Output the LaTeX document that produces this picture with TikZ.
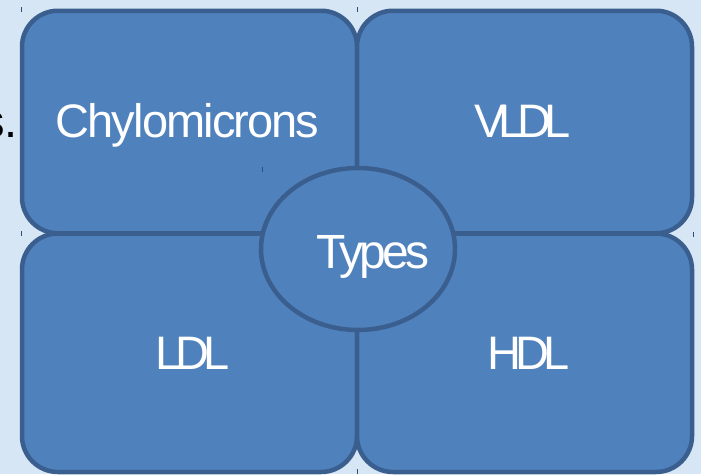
\documentclass[tikz,border=0pt]{standalone}
\usepackage{fontspec}
\setmainfont{Liberation Sans}
\usetikzlibrary{shapes.geometric}
\definecolor{slidebg}{HTML}{D6E6F5}
\definecolor{tilefill}{HTML}{4F81BD}
\definecolor{tileedge}{HTML}{3A5F8E}
\definecolor{tickblue}{HTML}{2E4E7E}
\newfontfamily\tilefont{Liberation Sans}
\begin{document}
\begin{tikzpicture}[x=1pt,y=-1pt,
  tile/.style={draw=tileedge, fill=tilefill, line width=4.5pt,
    rounded corners=36pt, inner sep=0pt},
  hub/.style={ellipse, draw=tileedge, fill=tilefill, line width=4.5pt, inner sep=0pt},
  tiletext/.style={text=white, inner sep=0pt, anchor=base},
  tick/.style={draw=tickblue, line width=1pt}]
  % page area
  \fill[slidebg] (0,0) rectangle (701,474);
  \useasboundingbox (0,0) rectangle (701,474);
  \clip (0,0) rectangle (701,474);

  % tail of the title text running behind the diagram
  \node[anchor=base east, inner sep=0pt, text=black,
    font=\tilefont\fontsize{47}{50}\selectfont] (tail) at (18,137) {s.};

  % four quadrant tiles
  \node[tile, minimum width=335pt, minimum height=222.5pt] (tl) at (189.5,122) {};
  \node[tile, minimum width=335pt, minimum height=222.5pt] (tr) at (524.5,122) {};
  \node[tile, minimum width=335pt, minimum height=238.5pt] (bl) at (189.5,352.75) {};
  \node[tile, minimum width=335pt, minimum height=238.5pt] (br) at (524.5,352.75) {};

  % central ellipse
  \node[hub, minimum width=194pt, minimum height=162pt] (hub) at (358,249) {};

  % labels
  \node[tiletext, font=\tilefont\fontsize{47}{50}\selectfont\addfontfeature{LetterSpace=-4}]
    (chylo) at (187.5,137) {Chylomicrons};
  \node[tiletext, font=\tilefont\fontsize{47}{50}\selectfont\addfontfeature{LetterSpace=-15}]
    (vldl) at (522.5,137) {VLDL};
  \node[tiletext, font=\tilefont\fontsize{47}{50}\selectfont\addfontfeature{LetterSpace=-12}]
    (ldl) at (192.5,369) {LDL};
  \node[tiletext, font=\tilefont\fontsize{47}{50}\selectfont\addfontfeature{LetterSpace=-12}]
    (hdl) at (528.5,369) {HDL};
  \node[tiletext, font=\tilefont\fontsize{48}{50}\selectfont\addfontfeature{LetterSpace=-8}]
    (types) at (373,268) {Types};

  % small marker ticks
  \coordinate (k1) at (21.5,7);   \draw[tick] (k1) -- ++(0,5);
  \coordinate (k2) at (357.5,7);  \draw[tick] (k2) -- ++(0,5);
  \coordinate (k3) at (21,231);   \draw[tick] (k3) -- ++(0,5);
  \coordinate (k4) at (693.5,232);\draw[tick] (k4) -- ++(0,5);
  \coordinate (k5) at (357.5,469);\draw[tick] (k5) -- ++(0,5);
  \coordinate (k6) at (262,167);  \draw[tick] (k6) -- ++(0,5);
\end{tikzpicture}
\end{document}
